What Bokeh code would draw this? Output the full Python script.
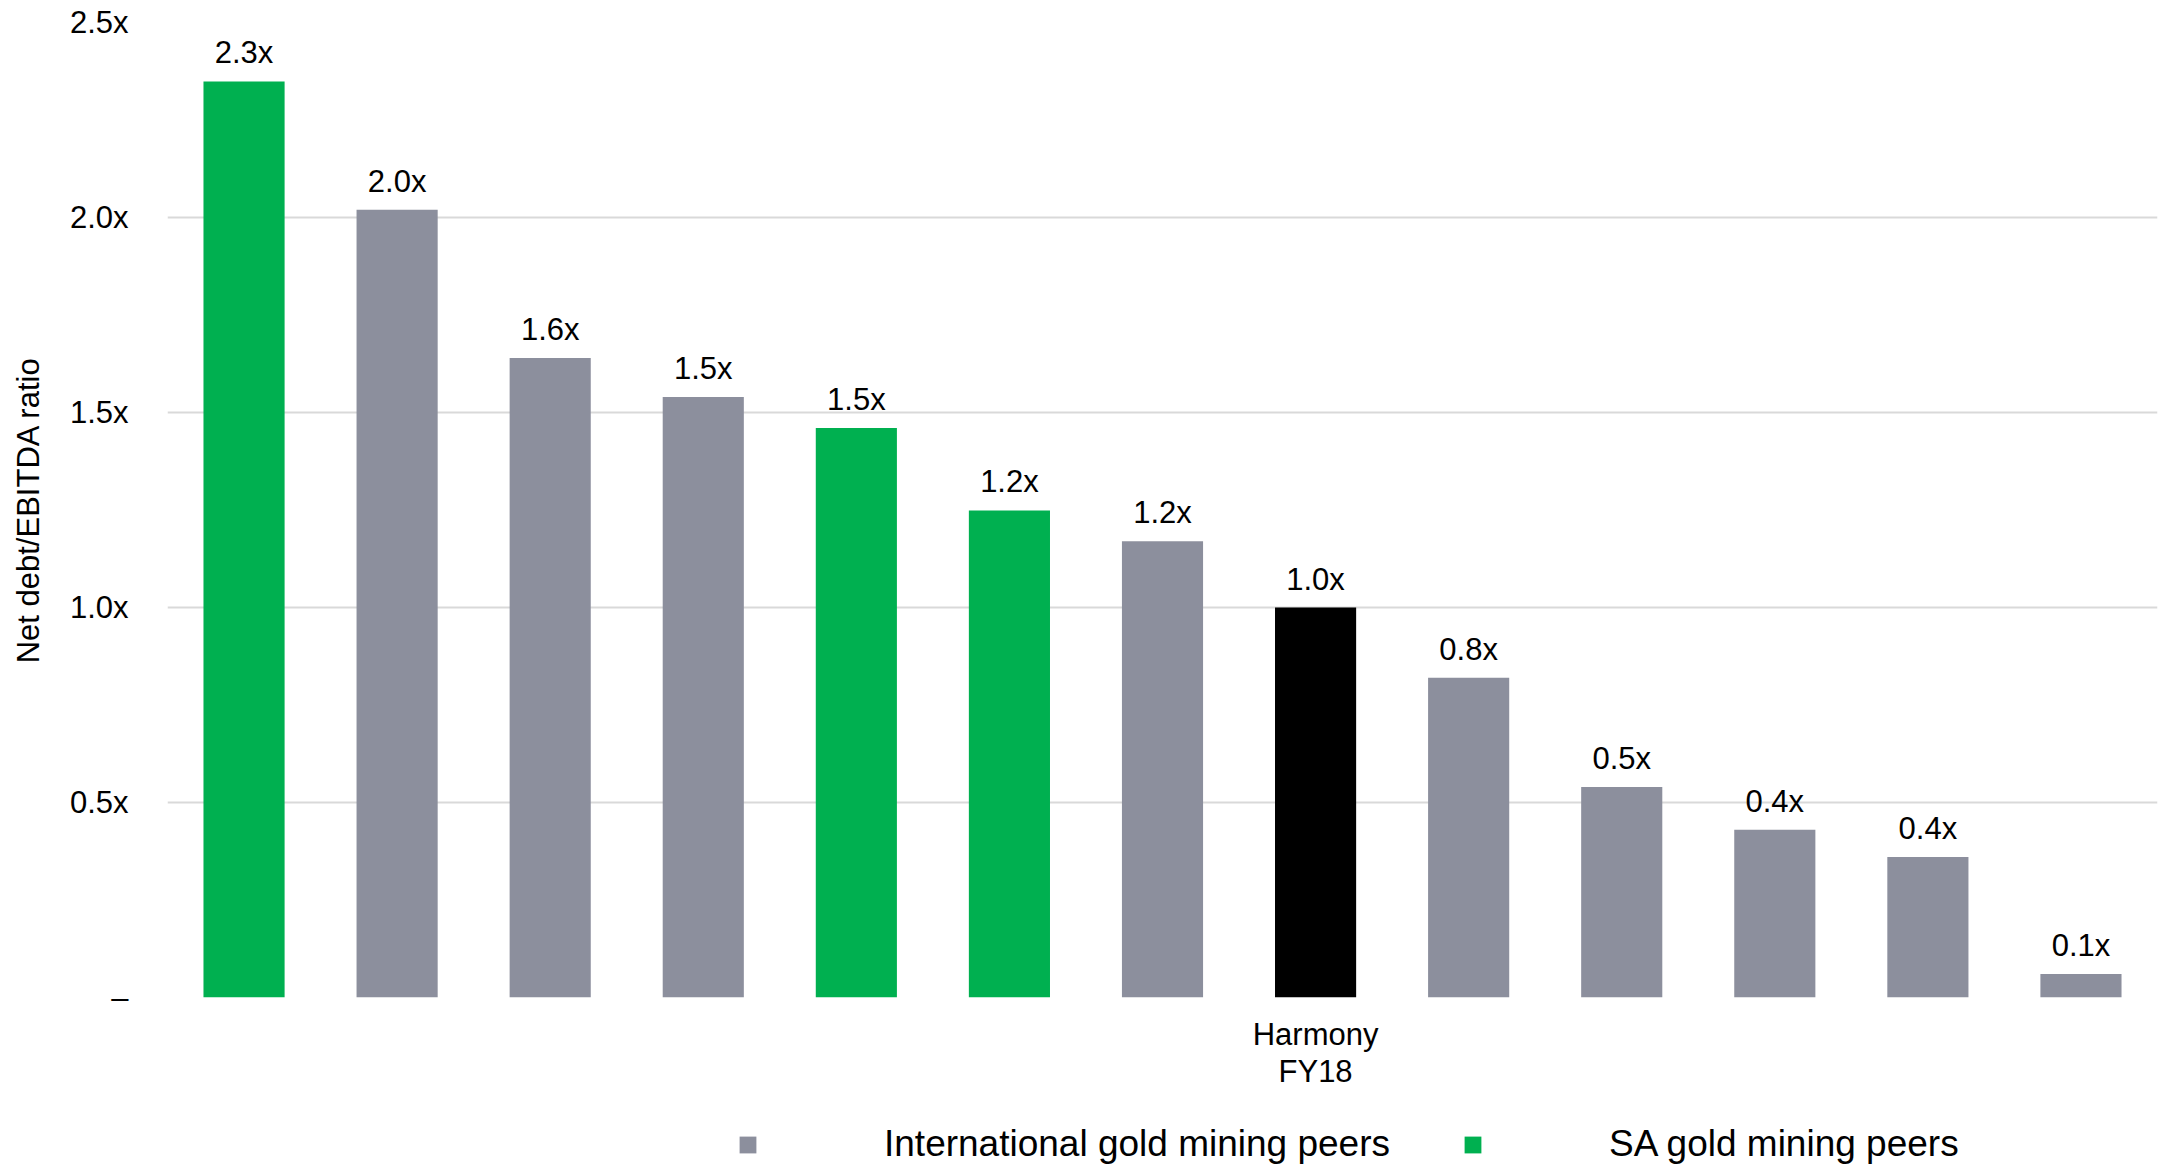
from bokeh.plotting import figure
from bokeh.layouts import column
from bokeh.models import (ColumnDataSource, Range1d, FixedTicker, LabelSet,
                          Legend, LegendItem, PrintfTickFormatter)
from bokeh.core.properties import value
from bokeh.embed import file_html
from bokeh.resources import INLINE

# Net debt / EBITDA by company, sorted high to low
companies = ["", "", "", "", "", "", "", "Harmony\nFY18", "", "", "", "", ""]
groups = ["SA", "Intl", "Intl", "Intl", "SA", "SA", "Intl", "Harmony",
          "Intl", "Intl", "Intl", "Intl", "Intl"]
values = [2.349, 2.02, 1.64, 1.54, 1.46, 1.249, 1.17, 1.00, 0.82, 0.54, 0.43, 0.36, 0.06]
y_ticks = [0, 0.5, 1.0, 1.5, 2.0, 2.5]
legend_labels = {"Intl": "International gold mining peers", "SA": "SA gold mining peers"}

colors = {"SA": "#00B050", "Intl": "#8C8F9D", "Harmony": "#000000"}
FONT = "Liberation Sans"

positions = list(range(len(values)))
value_labels = [f"{v:.1f}x" for v in values]

p = figure(width=2166, height=1093, output_backend="svg", toolbar_location=None,
           x_range=Range1d(-0.5, len(values) - 0.5), y_range=Range1d(0, 2.5),
           min_border_left=167, min_border_right=9, min_border_top=22,
           min_border_bottom=96, outline_line_color=None,
           background_fill_color="white", border_fill_color="white")

for g in ["Intl", "SA", "Harmony"]:
    idx = [i for i, gg in enumerate(groups) if gg == g]
    src = ColumnDataSource(dict(x=[positions[i] for i in idx],
                                top=[values[i] for i in idx]))
    p.vbar(x="x", top="top", width=0.53, source=src,
           fill_color=colors[g], line_color=None)

lab_src = ColumnDataSource(dict(x=positions, y=values, text=value_labels))
p.add_layout(LabelSet(x="x", y="y", text="text", source=lab_src,
                      text_align="center", text_baseline="alphabetic",
                      y_offset=18, text_font=value(FONT), text_font_size=value("31px"),
                      text_color="#000000"))

# y axis
p.yaxis.ticker = FixedTicker(ticks=y_ticks)
p.yaxis.formatter = PrintfTickFormatter(format="%.1fx")
p.yaxis.major_label_overrides = {0: "\u2013"}
p.yaxis.axis_line_color = None
p.yaxis.major_tick_line_color = None
p.yaxis.minor_tick_line_color = None
p.yaxis.major_label_standoff = 33
p.yaxis.major_label_text_font = FONT
p.yaxis.major_label_text_font_size = "31px"
p.yaxis.major_label_text_color = "#000000"
p.yaxis.axis_label = "Net debt/EBITDA ratio"
p.yaxis.axis_label_text_font = FONT
p.yaxis.axis_label_text_font_size = "31px"
p.yaxis.axis_label_text_font_style = "normal"
p.yaxis.axis_label_text_color = "#000000"
p.yaxis.axis_label_standoff = 21

# x axis: only the named company is labelled
named = [i for i, c in enumerate(companies) if c]
p.xaxis.ticker = FixedTicker(ticks=named)
p.xaxis.major_label_overrides = {i: companies[i] for i in named}
p.xaxis.axis_line_color = None
p.xaxis.major_tick_line_color = None
p.xaxis.minor_tick_line_color = None
p.xaxis.major_label_standoff = 13
p.xaxis.major_label_text_font = FONT
p.xaxis.major_label_text_font_size = "31px"
p.xaxis.major_label_text_line_height = 1.08
p.xaxis.major_label_text_color = "#000000"

p.xgrid.grid_line_color = None
p.ygrid.grid_line_color = "#D9D9D9"
p.ygrid.grid_line_width = 2

# legend strip underneath the chart (zero-height swatch bars carry the colours)
lg = figure(width=2166, height=72, output_backend="svg", toolbar_location=None,
            x_range=Range1d(0, 1), y_range=Range1d(0, 1),
            x_axis_type=None, y_axis_type=None,
            min_border_left=0, min_border_right=0, min_border_top=0,
            min_border_bottom=0, outline_line_color=None,
            background_fill_color="white", border_fill_color="white")
lg.grid.visible = False
swatches = {}
for g in ["Intl", "SA"]:
    swatches[g] = lg.vbar(x=[0], top=[0], width=0.5, fill_color=colors[g], line_color=None)

legend = Legend(items=[LegendItem(label=legend_labels[g], renderers=[swatches[g]])
                       for g in ["Intl", "SA"]],
                orientation="horizontal", location=(570, 0),
                glyph_width=21, glyph_height=21, label_standoff=126, spacing=72,
                padding=0, margin=0, border_line_color=None,
                background_fill_alpha=0, label_text_font=FONT,
                label_text_font_size="37px", label_text_color="#000000")
lg.add_layout(legend, "center")

layout = column(p, lg, spacing=0)
open("out.html", "w").write(file_html(layout, INLINE))
